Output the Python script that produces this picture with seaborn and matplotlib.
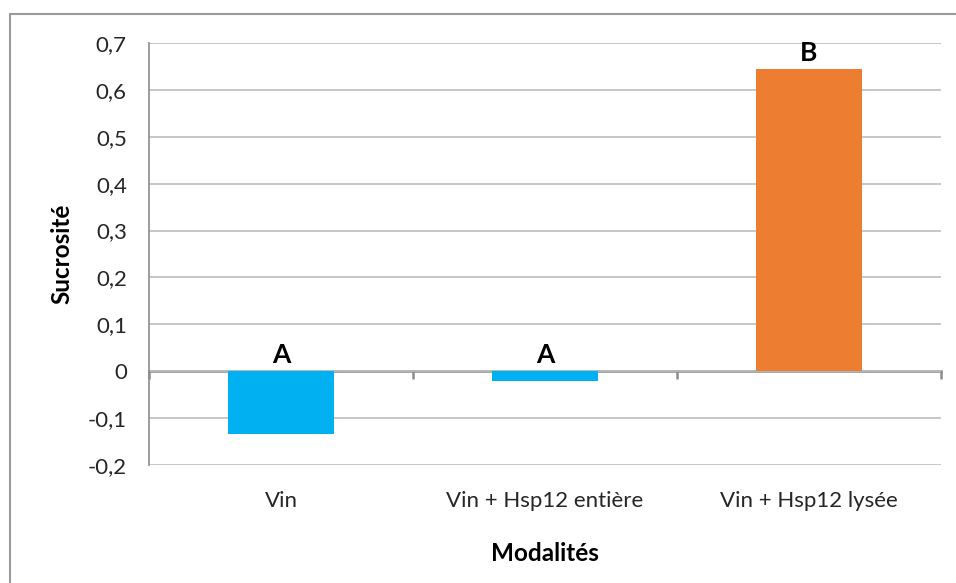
import matplotlib
matplotlib.use("Agg")
import matplotlib.pyplot as plt
from matplotlib.lines import Line2D
import seaborn as sns
import pandas as pd

# Data
categories = ["Vin", "Vin + Hsp12 entière", "Vin + Hsp12 lysée"]
sucrosite = [-0.134, -0.02, 0.644]
groups = ["A", "A", "B"]
bar_colors = ["#00B0F0", "#00B0F0", "#ED7D31"]
yticks = [-0.2, -0.1, 0, 0.1, 0.2, 0.3, 0.4, 0.5, 0.6, 0.7]

sns.set_theme(style="white")
plt.rcParams["font.family"] = ["Lato", "DejaVu Sans"]

df = pd.DataFrame({"Modalités": categories, "Sucrosité": sucrosite})

fig = plt.figure(figsize=(9.56, 5.83), dpi=100)
ax = fig.add_axes([149 / 956, 1 - 465 / 583, (941 - 149) / 956, (465 - 43) / 583])

sns.barplot(data=df, x="Modalités", y="Sucrosité", hue="Modalités",
            palette=bar_colors, legend=False, width=0.4, saturation=1,
            linewidth=0, ax=ax)

ax.set_xlim(-0.5, 2.5)
ax.set_ylim(-0.2, 0.7)
ax.set_yticks(yticks)
ax.set_yticklabels([f"{v:.1f}".replace(".", ",") if v != 0 else "0" for v in yticks])

axis_grey = "#8C8C8C"
grid_grey = "#BDBDBD"

# Horizontal gridlines
ax.yaxis.grid(True, color=grid_grey, linewidth=1.2)
ax.set_axisbelow(True)

for side in ["top", "right", "bottom"]:
    ax.spines[side].set_visible(False)
ax.spines["left"].set_color(axis_grey)
ax.spines["left"].set_linewidth(1.2)

ax.tick_params(axis="y", which="major", length=6, width=1.2, color=axis_grey,
               direction="out", labelsize=16, labelcolor="#262626", pad=10)
ax.tick_params(axis="x", which="major", length=0, labelsize=16,
               labelcolor="#262626", pad=19)

# Category axis drawn along the zero line, with tick marks between categories
zero_frac = (0 - (-0.2)) / (0.7 - (-0.2))
sec = ax.secondary_xaxis(zero_frac)
sec.set_xticks([-0.5, 0.5, 1.5, 2.5])
sec.set_xticklabels([])
sec.tick_params(axis="x", length=6, width=1.8, color=axis_grey, direction="out")
sec.spines["bottom"].set_color(axis_grey)
sec.spines["bottom"].set_linewidth(1.8)

# Group letters above each bar (above zero for negative bars)
for i, (v, g) in enumerate(zip(sucrosite, groups)):
    ax.annotate(g, xy=(i, max(v, 0)), xytext=(0, 3), textcoords="offset points",
                ha="center", va="bottom", fontsize=19, fontweight="bold",
                color="black")

ax.set_xlabel("Modalités", fontsize=17.5, fontweight="bold", color="black", labelpad=22)
ax.set_ylabel("Sucrosité", fontsize=17.5, fontweight="bold", color="black", labelpad=10)

# Chart frame
fig.add_artist(Line2D([10 / 956, 10 / 956], [0, 1 - 14 / 583],
                      transform=fig.transFigure, color="#9A9A9A", linewidth=1.5))
fig.add_artist(Line2D([10 / 956, 1], [1 - 14 / 583, 1 - 14 / 583],
                      transform=fig.transFigure, color="#9A9A9A", linewidth=1.5))

fig.savefig("out.png", dpi=100, facecolor="white")
